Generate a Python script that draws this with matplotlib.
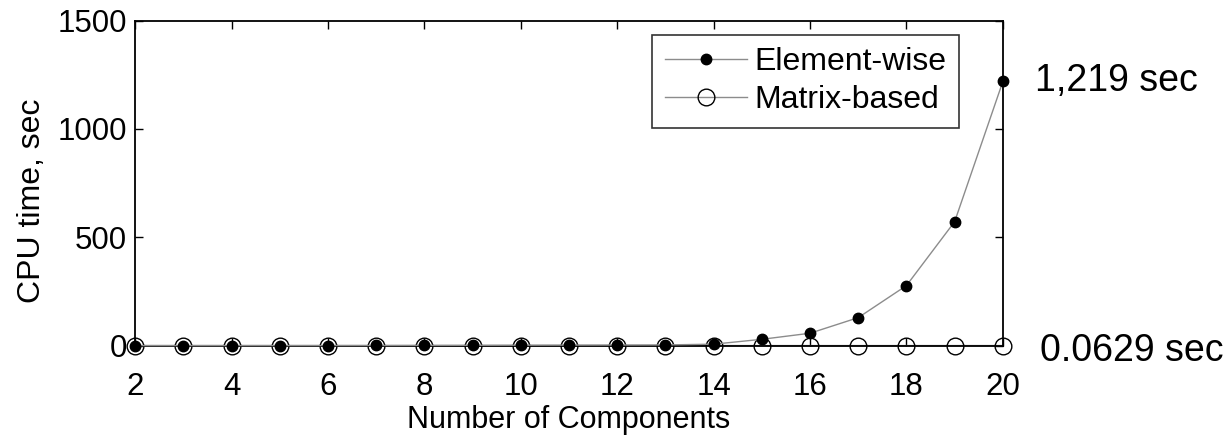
import numpy as np
import matplotlib.pyplot as plt

plt.rcParams['font.family'] = ['Liberation Sans', 'DejaVu Sans']

components = [2, 3, 4, 5, 6, 7, 8, 9, 10, 11, 12, 13, 14, 15, 16, 17, 18, 19, 20]
element_wise = [0.01, 0.02, 0.05, 0.1, 0.2, 0.4, 0.8, 1.3, 1.8, 2.2, 2.6, 3.0,
                6.5, 29, 57, 129, 277, 572, 1219]
matrix_based = [0.001, 0.001, 0.002, 0.002, 0.003, 0.004, 0.005, 0.006, 0.008, 0.01,
                0.012, 0.015, 0.018, 0.022, 0.027, 0.033, 0.041, 0.05, 0.0629]

fig = plt.figure(figsize=(12.29, 4.38), dpi=100)
ax = fig.add_axes([0.110, 0.211, 0.706, 0.742])

fs = 22.5
ax.plot(components, element_wise, '-', color='#8c8c8c', lw=1, marker='o',
        ms=7.5, mfc='black', mec='black', label='Element-wise', clip_on=False, zorder=3)
ax.plot(components, matrix_based, '-', color='#8c8c8c', lw=1, marker='o',
        ms=12, mfc='none', mec='black', mew=1, label='Matrix-based', clip_on=False, zorder=2)

ax.set_xlim(2, 20)
ax.set_ylim(0, 1500)
ax.set_xticks(np.arange(2, 21, 2))
ax.set_yticks([0, 500, 1000, 1500])
ax.tick_params(direction='in', length=6, width=1, labelsize=fs, top=True, right=True)
ax.tick_params(axis='x', pad=19)
ax.tick_params(axis='y', pad=6)
for s in ax.spines.values():
    s.set_linewidth(1.3)

ax.set_xlabel('Number of Components', fontsize=22, labelpad=2)
ax.set_ylabel('CPU time, sec', fontsize=23)
ax.yaxis.set_label_coords(-0.102, 0.445)

leg = ax.legend(loc='upper right', bbox_to_anchor=(0.95, 0.957), fontsize=23,
                frameon=True, fancybox=False, edgecolor='black', handlelength=2.55,
                handletextpad=0.25, borderpad=0.4, labelspacing=0.25, borderaxespad=0)
leg.get_frame().set_linewidth(1.2)

ax.annotate('1,219 sec', xy=(20, element_wise[-1]), xytext=(23, 0),
            textcoords='offset points', fontsize=27, va='center', ha='left',
            annotation_clip=False)
ax.annotate('0.0629 sec', xy=(20, matrix_based[-1]), xytext=(26.5, -3.6),
            textcoords='offset points', fontsize=27, va='center', ha='left',
            annotation_clip=False)

fig.savefig('out.png', dpi=100)
